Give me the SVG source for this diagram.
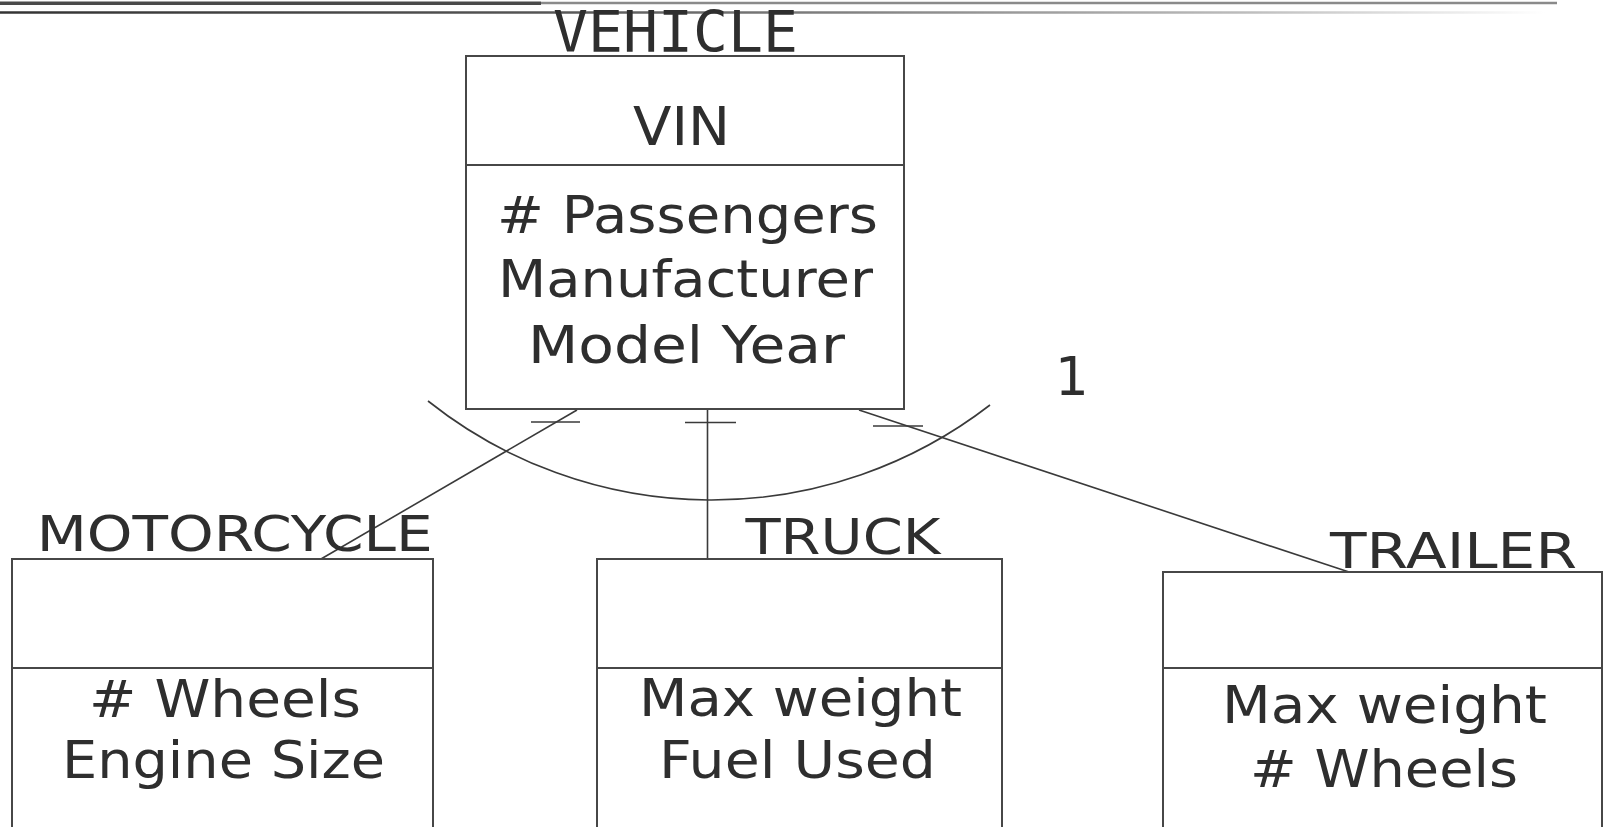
<svg xmlns="http://www.w3.org/2000/svg" width="1608" height="827" viewBox="0 0 1608 827">
  <defs>
    <linearGradient id="fade" x1="0" y1="0" x2="1545" y2="0" gradientUnits="userSpaceOnUse">
      <stop offset="0" stop-color="#333"/>
      <stop offset="0.35" stop-color="#555"/>
      <stop offset="0.8" stop-color="#bbb"/>
      <stop offset="1" stop-color="#fff"/>
    </linearGradient>
  </defs>
  <style>
    .box { fill: #fff; stroke: #474747; stroke-width: 2; }
    .div { stroke: #474747; stroke-width: 2; }
    .conn { fill: none; stroke: #3a3a3a; stroke-width: 1.6; }
    .t { font-family: "DejaVu Sans", Verdana, sans-serif; fill: #2e2e2e; }
    .attr { font-size: 52px; text-anchor: start; }
    .lbl { font-size: 50px; }
    .mono { font-family: "DejaVu Sans Mono", "Liberation Mono", monospace; fill: #2e2e2e; font-size: 57px; }
  </style>
  <rect width="1608" height="827" fill="#fff"/>

  <g id="header-lines">
    <line x1="541" y1="3" x2="1557" y2="3" stroke="#8a8a8a" stroke-width="2.5"/>
    <line x1="0" y1="3.3" x2="541" y2="3.3" stroke="#4a4a4a" stroke-width="3.5"/>
    <line x1="0" y1="12.5" x2="1545" y2="12.5" stroke="url(#fade)" stroke-width="2.5"/>
  </g>

  <g id="connectors">
    <path class="conn" d="M 428 401 A 455.5 455.5 0 0 0 990 405"/>
    <line class="conn" x1="577" y1="410" x2="321" y2="559"/>
    <line class="conn" x1="531" y1="422" x2="580" y2="422"/>
    <line class="conn" x1="707.5" y1="409" x2="707.5" y2="559"/>
    <line class="conn" x1="685" y1="422.5" x2="736" y2="422.5"/>
    <line class="conn" x1="859" y1="410" x2="1349" y2="572"/>
    <line class="conn" x1="873" y1="426" x2="923" y2="426"/>
    <text class="t" x="1055" y="395" font-size="53">1</text>
  </g>

  <g id="vehicle">
    <rect class="box" x="466" y="56" width="438" height="353"/>
    <line class="div" x1="466" y1="165" x2="904" y2="165"/>
    <text class="mono" x="553" y="52" textLength="245" lengthAdjust="spacingAndGlyphs">VEHICLE</text>
    <text class="t" x="633" y="144.5" font-size="54" textLength="97" lengthAdjust="spacingAndGlyphs">VIN</text>
    <text class="t attr" x="497" y="232.7" textLength="381" lengthAdjust="spacingAndGlyphs"># Passengers</text>
    <text class="t attr" x="498" y="297" textLength="375" lengthAdjust="spacingAndGlyphs">Manufacturer</text>
    <text class="t attr" x="528" y="363" textLength="317" lengthAdjust="spacingAndGlyphs">Model Year</text>
  </g>

  <g id="motorcycle">
    <path class="box" d="M 12 840 V 559 H 433 V 840"/>
    <line class="div" x1="12" y1="668" x2="433" y2="668"/>
    <text class="t lbl" x="36.7" y="551" textLength="396" lengthAdjust="spacingAndGlyphs">MOTORCYCLE</text>
    <text class="t attr" x="89" y="717" textLength="272" lengthAdjust="spacingAndGlyphs"># Wheels</text>
    <text class="t attr" x="62" y="778" textLength="323" lengthAdjust="spacingAndGlyphs">Engine Size</text>
  </g>

  <g id="truck">
    <path class="box" d="M 597 840 V 559 H 1002 V 840"/>
    <line class="div" x1="597" y1="668" x2="1002" y2="668"/>
    <text class="t lbl" x="745.5" y="553.5" textLength="195" lengthAdjust="spacingAndGlyphs">TRUCK</text>
    <text class="t attr" x="639" y="716" textLength="323" lengthAdjust="spacingAndGlyphs">Max weight</text>
    <text class="t attr" x="659" y="778" textLength="277" lengthAdjust="spacingAndGlyphs">Fuel Used</text>
  </g>

  <g id="trailer">
    <path class="box" d="M 1163 840 V 572 H 1602 V 840"/>
    <line class="div" x1="1163" y1="668" x2="1602" y2="668"/>
    <text class="t lbl" x="1330" y="568" textLength="247" lengthAdjust="spacingAndGlyphs">TRAILER</text>
    <text class="t attr" x="1222" y="722.7" textLength="325" lengthAdjust="spacingAndGlyphs">Max weight</text>
    <text class="t attr" x="1250" y="787" textLength="268" lengthAdjust="spacingAndGlyphs"># Wheels</text>
  </g>
</svg>
